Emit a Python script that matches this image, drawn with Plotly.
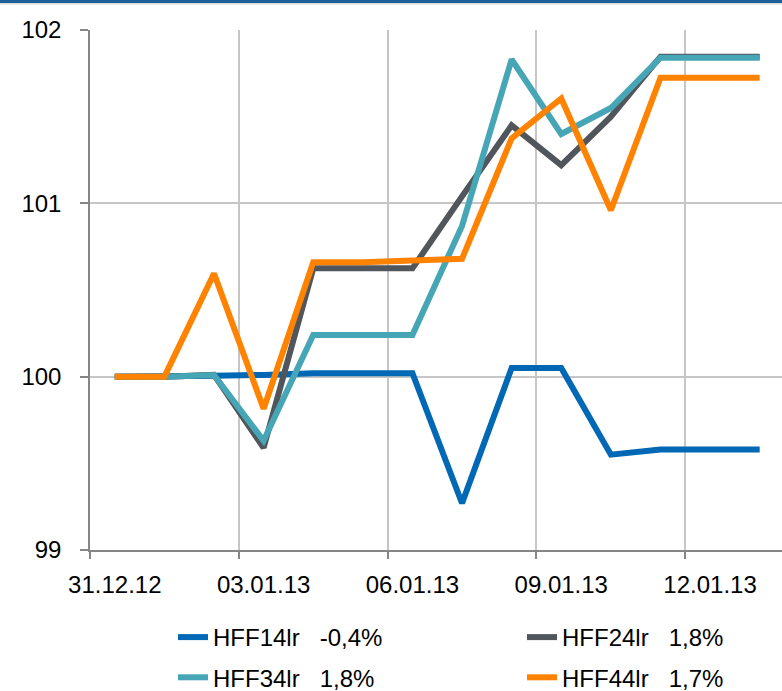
import pandas as pd
import plotly.graph_objects as go

# ---- data ----
dates = ["31.12.12", "01.01.13", "02.01.13", "03.01.13", "04.01.13", "05.01.13", "06.01.13",
         "07.01.13", "08.01.13", "09.01.13", "10.01.13", "11.01.13", "12.01.13", "13.01.13"]
hff14 = [100.0, 100.0, 100.005, 100.01, 100.02, 100.02, 100.02, 99.27, 100.05, 100.05, 99.55, 99.58, 99.58, 99.58]
hff24 = [100.0, 100.0, 100.01, 99.59, 100.625, 100.625, 100.625, 101.04, 101.45, 101.22, 101.50, 101.846, 101.846, 101.846]
hff34 = [100.0, 100.0, 100.01, 99.63, 100.24, 100.24, 100.24, 100.87, 101.83, 101.40, 101.55, 101.84, 101.84, 101.84]
hff44 = [100.0, 100.0, 100.595, 99.815, 100.66, 100.66, 100.67, 100.68, 101.375, 101.605, 100.96, 101.725, 101.725, 101.725]
series_names = ["HFF14lr\u00a0\u00a0\u00a0-0,4%", "HFF24lr\u00a0\u00a0\u00a01,8%",
                "HFF34lr\u00a0\u00a0\u00a01,8%", "HFF44lr\u00a0\u00a0\u00a01,7%"]
series_values = [hff14, hff24, hff34, hff44]
y_ticks = [99, 100, 101, 102]

colors = ["#0068b4", "#50565b", "#47a6b6", "#ff8200"]
legend_slots = ["legend", "legend2", "legend", "legend2"]

x = pd.to_datetime(dates, format="%d.%m.%y")
half_day = pd.Timedelta(hours=12)
day = pd.Timedelta(days=1)

fig = go.Figure()
for name, vals, col, lg in zip(series_names, series_values, colors, legend_slots):
    fig.add_trace(go.Scatter(x=x, y=vals, mode="lines", name=name, legend=lg,
                             legendgroup=name,
                             line=dict(color=col, width=6)))

FONT = "Liberation Sans, Arial, sans-serif"
axis_gray = "#868686"
grid_gray = "#c6c6c6"

legend_common = dict(
    orientation="v",
    xref="container", yref="container",
    y=1 - 615 / 691,
    xanchor="left", yanchor="top",
    font=dict(family=FONT, size=24, color="#000000"),
    bgcolor="rgba(0,0,0,0)",
    traceorder="grouped",
    tracegroupgap=6,
)

fig.update_layout(
    width=782, height=691,
    margin=dict(l=90, r=0, t=30, b=141, autoexpand=False),
    paper_bgcolor="white", plot_bgcolor="white",
    font=dict(family=FONT, size=24, color="#000000"),
    showlegend=True,
    legend=dict(x=173 / 782, **legend_common),
    legend2=dict(x=522 / 782, **legend_common),
    xaxis=dict(
        type="date",
        automargin=False,
        range=[x[0] - half_day, x[0] - half_day + 13.95 * day],
        tick0=x[0], dtick=3 * 86400000,
        tickformat="%d.%m.%y",
        showgrid=False, ticks="",
        showline=True, linecolor=axis_gray, linewidth=1.5,
        ticklabelstandoff=12,
        tickfont=dict(family=FONT, size=24, color="#000000"),
        minor=dict(
            tick0=x[0] - half_day, dtick=3 * 86400000,
            showgrid=True, gridcolor=grid_gray, gridwidth=1.5,
            ticks="outside", ticklen=7, tickcolor=axis_gray, tickwidth=1.5,
        ),
        fixedrange=True,
    ),
    yaxis=dict(
        automargin=False,
        range=[99, 102],
        tickvals=y_ticks,
        showgrid=True, gridcolor=grid_gray, gridwidth=1.5,
        zeroline=False,
        showline=True, linecolor=axis_gray, linewidth=1.5,
        ticks="outside", ticklen=8, tickcolor=axis_gray, tickwidth=1.5,
        ticklabelstandoff=14,
        tickfont=dict(family=FONT, size=24, color="#000000"),
        fixedrange=True,
    ),
    shapes=[
        dict(type="rect", xref="paper", yref="paper", x0=-0.2, x1=1.2,
             ysizemode="pixel", yanchor=1, y0=27, y1=31,
             fillcolor="#1f5f99", line=dict(width=0), layer="above"),
        dict(type="rect", xref="paper", yref="paper", x0=-0.2, x1=1.2,
             ysizemode="pixel", yanchor=1, y0=25.5, y1=27,
             fillcolor="#d9d9d9", line=dict(width=0), layer="above"),
    ],
)

fig.write_html("out.html",
               config={"displayModeBar": False},
               post_script="document.body.style.margin='0';document.body.style.overflow='hidden';")
